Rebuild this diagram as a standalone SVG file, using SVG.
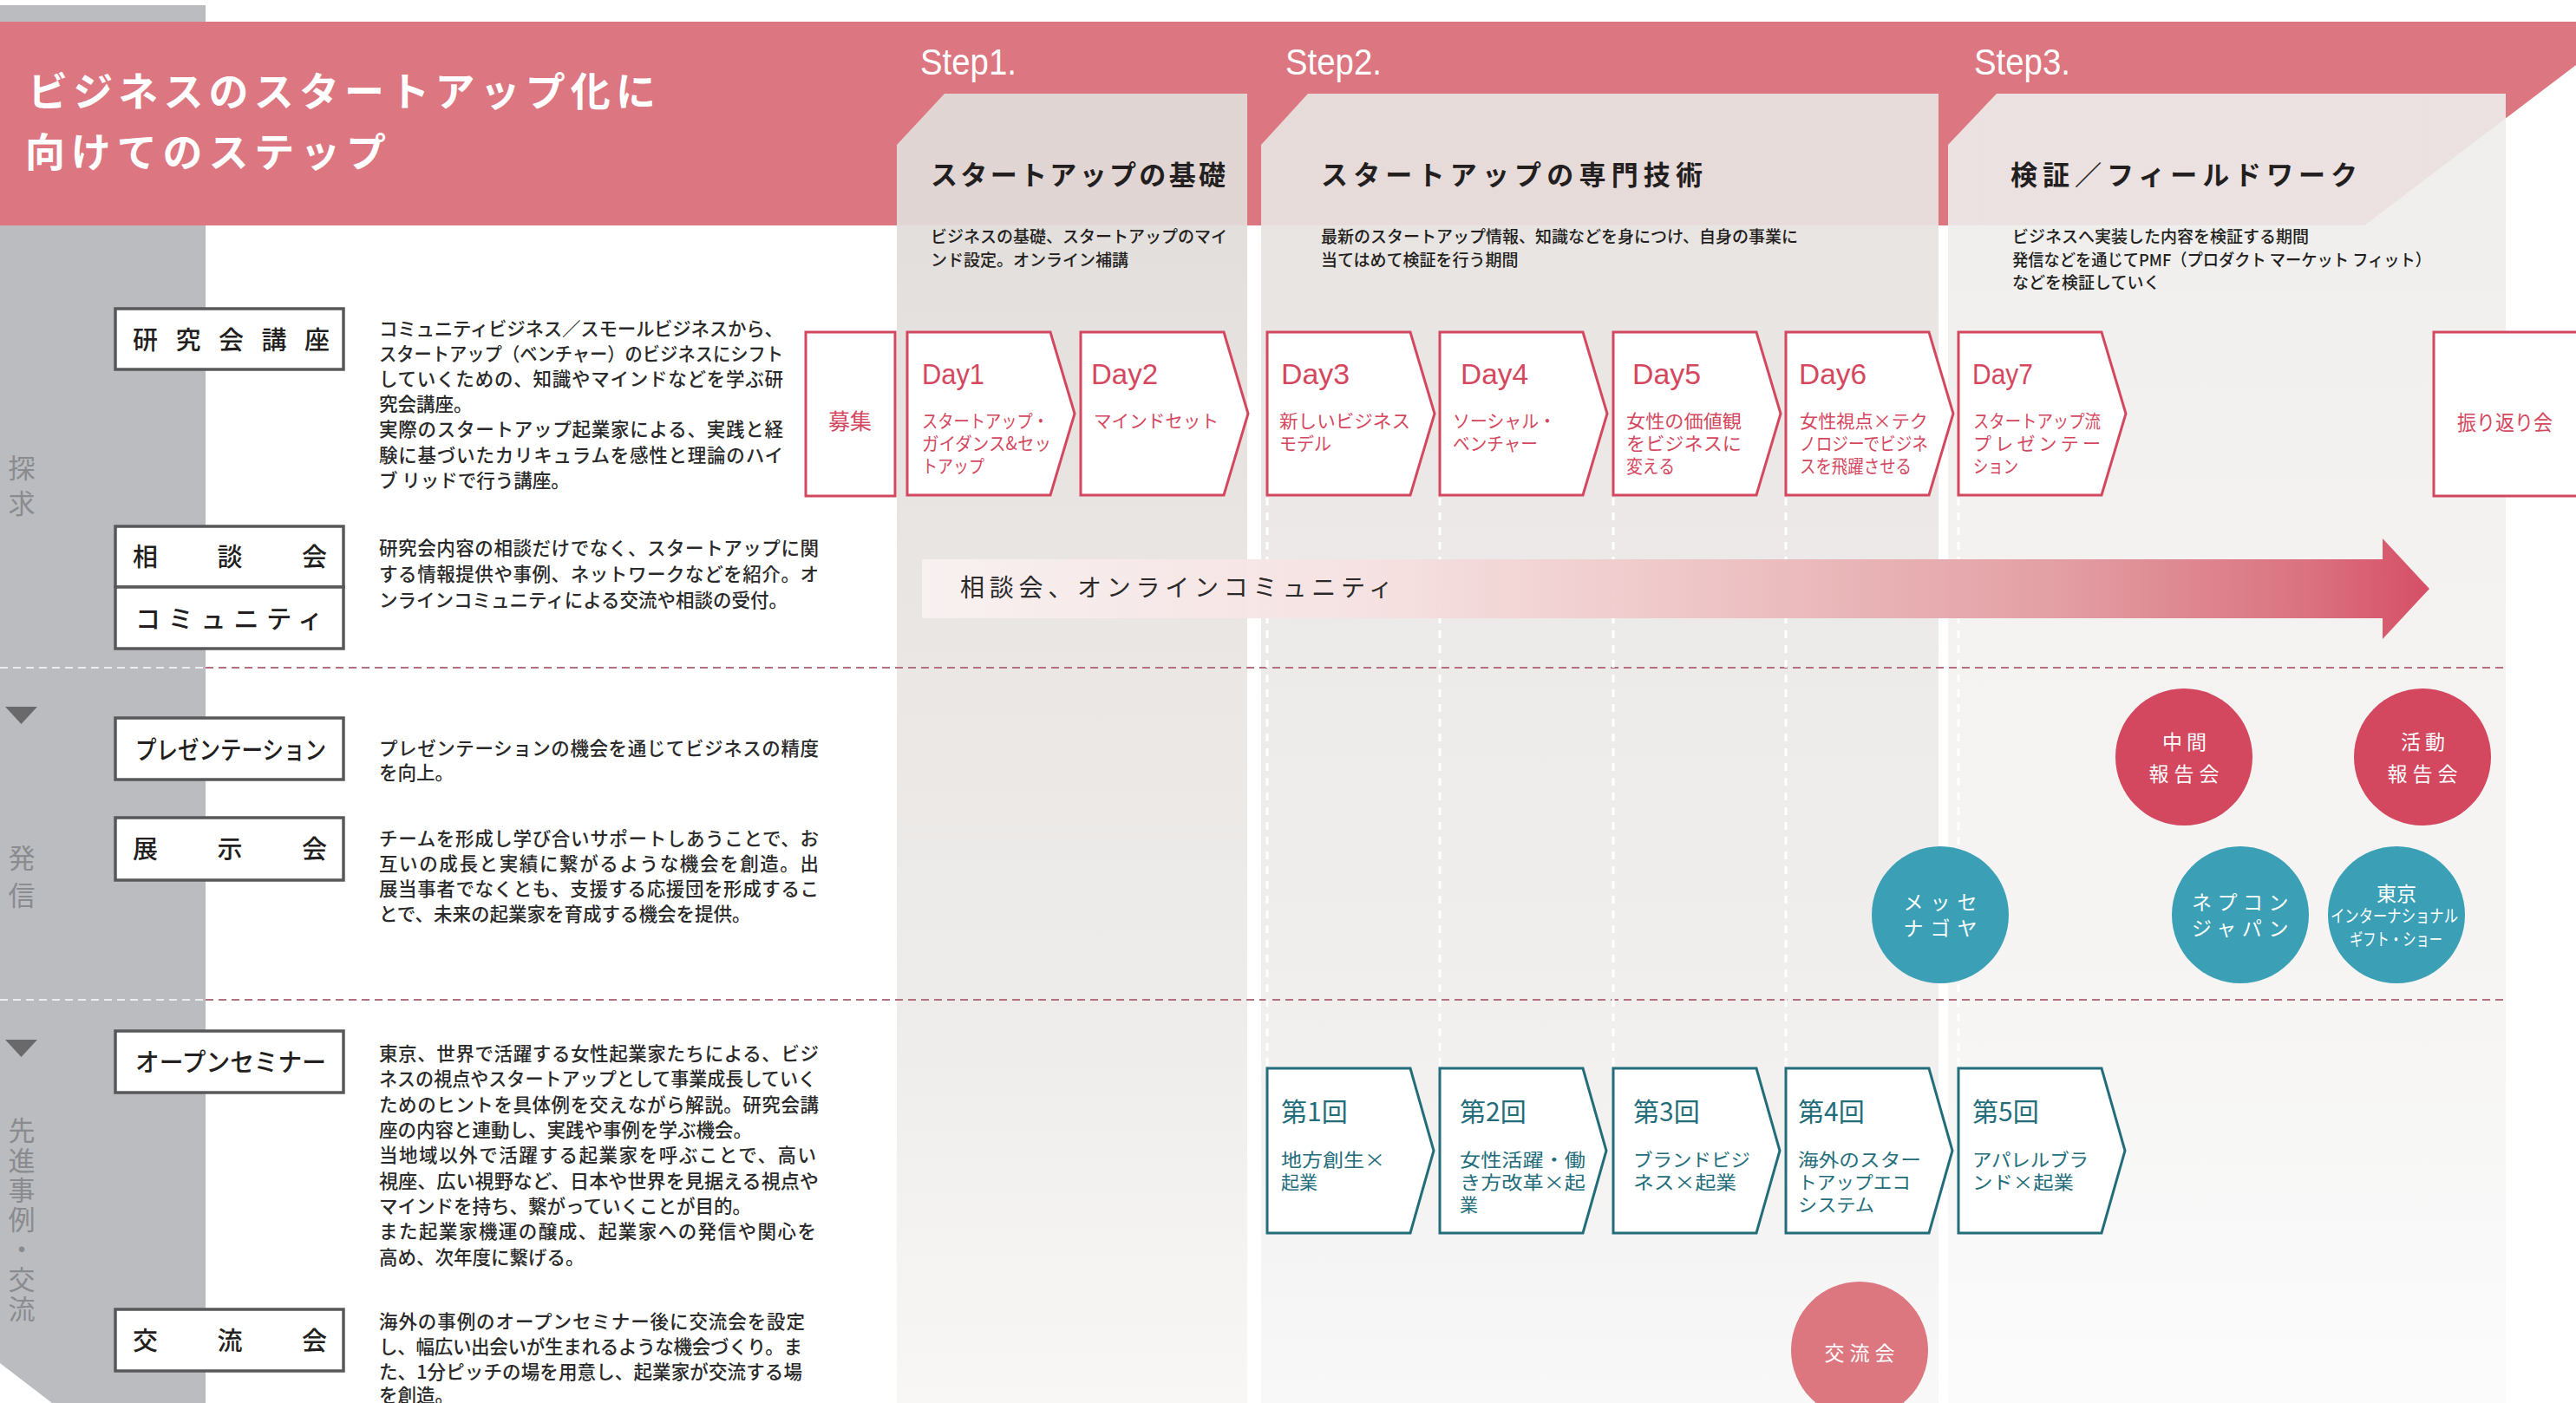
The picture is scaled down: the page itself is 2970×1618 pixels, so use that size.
<svg xmlns="http://www.w3.org/2000/svg" width="2970" height="1618" viewBox="0 0 2970 1618">
<defs>
<style>
.jp{font-family:'Noto Sans CJK JP','Noto Sans CJK SC',sans-serif;}
.lat{font-family:'Liberation Sans','Noto Sans CJK JP',sans-serif;}
.body{font-size:21.5px;fill:#2a2a2a;font-weight:500;}
.sdesc{font-size:19px;fill:#231f20;font-weight:500;}
.head{font-size:31px;fill:#231f20;font-weight:700;}
.lbl{font-size:29px;fill:#231f20;font-weight:500;}
.cat{font-size:31px;fill:#8a8b8f;writing-mode:tb;}
.step{font-size:43px;fill:#fff;}
.day{font-size:34px;fill:#d4485f;}
.dd{font-size:21px;fill:#d4485f;}
.sem{font-size:30px;fill:#236d7a;}
.sd{font-size:21px;fill:#236d7a;}
.pk{fill:#fff;stroke:#d4485f;stroke-width:3;}
.tl{fill:#fff;stroke:#236d7a;stroke-width:3;}
.box{fill:#fff;stroke:#58585a;stroke-width:3.5;}
.ct{font-size:23px;fill:#fff;text-anchor:middle;}
</style>
<linearGradient id="c1" gradientUnits="userSpaceOnUse" x1="0" y1="108" x2="0" y2="1618">
<stop offset="0" stop-color="#e2dedc" stop-opacity="0.92"/>
<stop offset="0.1" stop-color="#e2dedc" stop-opacity="0.92"/>
<stop offset="0.101" stop-color="#e3dfdd"/>
<stop offset="0.44" stop-color="#eae7e5"/>
<stop offset="0.69" stop-color="#eeecea"/>
<stop offset="1" stop-color="#f8f7f6"/>
</linearGradient>
<linearGradient id="c2" gradientUnits="userSpaceOnUse" x1="0" y1="108" x2="0" y2="1618">
<stop offset="0" stop-color="#e8e4e2" stop-opacity="0.92"/>
<stop offset="0.1" stop-color="#e8e4e2" stop-opacity="0.92"/>
<stop offset="0.101" stop-color="#e8e4e2"/>
<stop offset="0.44" stop-color="#edebea"/>
<stop offset="0.69" stop-color="#f0efee"/>
<stop offset="1" stop-color="#f9f8f8"/>
</linearGradient>
<linearGradient id="c3" gradientUnits="userSpaceOnUse" x1="0" y1="108" x2="0" y2="1618">
<stop offset="0" stop-color="#eeedec" stop-opacity="0.9"/>
<stop offset="0.1" stop-color="#eeedec" stop-opacity="0.9"/>
<stop offset="0.101" stop-color="#f0efee"/>
<stop offset="0.44" stop-color="#f4f3f2"/>
<stop offset="0.69" stop-color="#f6f5f4"/>
<stop offset="1" stop-color="#fbfbfb"/>
</linearGradient>
<linearGradient id="arr" gradientUnits="userSpaceOnUse" x1="1063" y1="0" x2="2801" y2="0">
<stop offset="0" stop-color="#f9f1f1"/>
<stop offset="0.3" stop-color="#f6e1e1"/>
<stop offset="0.5" stop-color="#efc6c7"/>
<stop offset="0.75" stop-color="#e29ba0"/>
<stop offset="0.92" stop-color="#d96b79"/>
<stop offset="1" stop-color="#d4465e"/>
</linearGradient>
</defs>

<rect x="0" y="0" width="2970" height="1618" fill="#fff"/>

<g id="background">
<polygon points="0,6 237,6 237,1618 60,1618 0,1572" fill="#bbbcc0"/>
<polygon points="0,25 3036,25 2726,260 0,260" fill="#dc7680"/>
<polygon points="1034,167 1089,108 1438,108 1438,1618 1034,1618" fill="url(#c1)"/>
<polygon points="1454,167 1508,108 2235,108 2235,1618 1454,1618" fill="url(#c2)"/>
<polygon points="2246,167 2302,108 2889,108 2889,1618 2246,1618" fill="url(#c3)"/>
</g>

<g id="header" class="jp">
<text x="32" y="122" font-size="46" font-weight="700" fill="#fff" textLength="724" lengthAdjust="spacing">ビジネスのスタートアップ化に</text>
<text x="29" y="192" font-size="46" font-weight="700" fill="#fff" textLength="416" lengthAdjust="spacing">向けてのステップ</text>
<text class="lat step" x="1061" y="86" textLength="111" lengthAdjust="spacingAndGlyphs">Step1.</text>
<text class="lat step" x="1482" y="86" textLength="111" lengthAdjust="spacingAndGlyphs">Step2.</text>
<text class="lat step" x="2276" y="86" textLength="111" lengthAdjust="spacingAndGlyphs">Step3.</text>
<text class="head" x="1073" y="213" textLength="340" lengthAdjust="spacing">スタートアップの基礎</text>
<text class="head" x="1523" y="213" textLength="440" lengthAdjust="spacing">スタートアップの専門技術</text>
<text class="head" x="2318" y="213" textLength="400" lengthAdjust="spacing">検証／フィールドワーク</text>
<text class="sdesc" x="1073" y="280">ビジネスの基礎、スタートアップのマイ</text>
<text class="sdesc" x="1073" y="306.5">ンド設定。オンライン補講</text>
<text class="sdesc" x="1523" y="280">最新のスタートアップ情報、知識などを身につけ、自身の事業に</text>
<text class="sdesc" x="1523" y="306.5">当てはめて検証を行う期間</text>
<text class="sdesc" x="2320" y="280">ビジネスへ実装した内容を検証する期間</text>
<text class="sdesc" x="2320" y="306.5" textLength="483" lengthAdjust="spacingAndGlyphs">発信などを通じてPMF（プロダクト マーケット フィット）</text>
<text class="sdesc" x="2320" y="333">などを検証していく</text>
</g>

<g id="categories" class="jp">
<text class="cat" x="25" y="524" letter-spacing="10">探求</text>
<text class="cat" x="25" y="974" letter-spacing="12">発信</text>
<text class="cat" x="25" y="1288" letter-spacing="3.3">先進事例・交流</text>
<polygon points="6,815 43,815 24.5,835" fill="#69696c"/>
<polygon points="6,1199 43,1199 24.5,1219" fill="#69696c"/>
</g>

<g id="connectors">
<line x1="0" y1="770" x2="237" y2="770" stroke="#ececec" stroke-width="2" stroke-dasharray="9 6"/>
<line x1="237" y1="770" x2="2889" y2="770" stroke="#b3707e" stroke-width="2" stroke-dasharray="9 6"/>
<line x1="0" y1="1153" x2="237" y2="1153" stroke="#ececec" stroke-width="2" stroke-dasharray="9 6"/>
<line x1="237" y1="1153" x2="2889" y2="1153" stroke="#b3707e" stroke-width="2" stroke-dasharray="9 6"/>
<g stroke="#fff" stroke-width="3" stroke-dasharray="9 8">
<line x1="1461" y1="574" x2="1461" y2="1230"/>
<line x1="1660" y1="574" x2="1660" y2="1230"/>
<line x1="1860" y1="574" x2="1860" y2="1230"/>
<line x1="2059" y1="574" x2="2059" y2="1230"/>
<line x1="2258" y1="574" x2="2258" y2="1230"/>
</g>
<g id="community-arrow">
<polygon points="1063,645 2747,645 2747,621 2801,679 2747,737 2747,713 1063,713" fill="url(#arr)" opacity="0.95"/>
<text class="jp" x="1107" y="688" font-size="28" fill="#2a2a2a" textLength="499" lengthAdjust="spacing">相談会、オンラインコミュニティ</text>
</g>
</g>

<g id="label-kenkyukai" class="jp">
<rect class="box" x="133" y="356" width="263" height="70"/>
<text class="lbl" x="153" y="403" letter-spacing="20.5">研究会講座</text>
<text class="body" x="437" y="387" textLength="466" lengthAdjust="spacing">コミュニティビジネス／スモールビジネスから、</text>
<text class="body" x="437" y="416" textLength="466" lengthAdjust="spacingAndGlyphs">スタートアップ（ベンチャー）のビジネスにシフト</text>
<text class="body" x="437" y="445" textLength="466" lengthAdjust="spacing">していくための、知識やマインドなどを学ぶ研</text>
<text class="body" x="437" y="474">究会講座。</text>
<text class="body" x="437" y="503" textLength="466" lengthAdjust="spacing">実際のスタートアップ起業家による、実践と経</text>
<text class="body" x="437" y="533" textLength="466" lengthAdjust="spacing">験に基づいたカリキュラムを感性と理論のハイ</text>
<text class="body" x="437" y="562">ブ リッドで行う講座。</text>
</g>

<g id="label-soudankai" class="jp">
<rect class="box" x="133" y="607" width="263" height="70"/>
<rect class="box" x="133" y="677" width="263" height="71"/>
<text class="lbl" x="153" y="653" letter-spacing="68.5">相談会</text>
<text class="lbl" x="156" y="725" letter-spacing="8.8">コミュニティ</text>
<text class="body" x="437" y="640" textLength="507" lengthAdjust="spacing">研究会内容の相談だけでなく、スタートアップに関</text>
<text class="body" x="437" y="670" textLength="507" lengthAdjust="spacing">する情報提供や事例、ネットワークなどを紹介。オ</text>
<text class="body" x="437" y="700">ンラインコミュニティによる交流や相談の受付。</text>
</g>

<g id="label-presentation" class="jp">
<rect class="box" x="133" y="828" width="263" height="71"/>
<text class="lbl" x="156" y="876" textLength="220" lengthAdjust="spacingAndGlyphs">プレゼンテーション</text>
<text class="body" x="437" y="871" textLength="507" lengthAdjust="spacing">プレゼンテーションの機会を通じてビジネスの精度</text>
<text class="body" x="437" y="899">を向上。</text>
</g>

<g id="label-tenjikai" class="jp">
<rect class="box" x="133" y="943" width="263" height="72"/>
<text class="lbl" x="153" y="990" letter-spacing="68.5">展示会</text>
<text class="body" x="437" y="975" textLength="507" lengthAdjust="spacing">チームを形成し学び合いサポートしあうことで、お</text>
<text class="body" x="437" y="1004" textLength="507" lengthAdjust="spacing">互いの成長と実績に繋がるような機会を創造。出</text>
<text class="body" x="437" y="1033" textLength="507" lengthAdjust="spacing">展当事者でなくとも、支援する応援団を形成するこ</text>
<text class="body" x="437" y="1062">とで、未来の起業家を育成する機会を提供。</text>
</g>

<g id="label-openseminar" class="jp">
<rect class="box" x="133" y="1189" width="263" height="71"/>
<text class="lbl" x="156" y="1236" textLength="220" lengthAdjust="spacingAndGlyphs">オープンセミナー</text>
<text class="body" x="437" y="1223" textLength="507" lengthAdjust="spacing">東京、世界で活躍する女性起業家たちによる、ビジ</text>
<text class="body" x="437" y="1252" textLength="504" lengthAdjust="spacingAndGlyphs">ネスの視点やスタートアップとして事業成長していく</text>
<text class="body" x="437" y="1282" textLength="507" lengthAdjust="spacing">ためのヒントを具体例を交えながら解説。研究会講</text>
<text class="body" x="437" y="1311">座の内容と連動し、実践や事例を学ぶ機会。</text>
<text class="body" x="437" y="1340" textLength="504" lengthAdjust="spacing">当地域以外で活躍する起業家を呼ぶことで、高い</text>
<text class="body" x="437" y="1370" textLength="507" lengthAdjust="spacingAndGlyphs">視座、広い視野など、日本や世界を見据える視点や</text>
<text class="body" x="437" y="1399">マインドを持ち、繋がっていくことが目的。</text>
<text class="body" x="437" y="1428" textLength="504" lengthAdjust="spacing">また起業家機運の醸成、起業家への発信や関心を</text>
<text class="body" x="437" y="1458">高め、次年度に繋げる。</text>
</g>

<g id="label-kouryukai" class="jp">
<rect class="box" x="133" y="1510" width="263" height="71"/>
<text class="lbl" x="153" y="1557" letter-spacing="68.5">交流会</text>
<text class="body" x="437" y="1532" textLength="491" lengthAdjust="spacing">海外の事例のオープンセミナー後に交流会を設定</text>
<text class="body" x="437" y="1561" textLength="488" lengthAdjust="spacing">し、幅広い出会いが生まれるような機会づくり。ま</text>
<text class="body" x="437" y="1590" textLength="488" lengthAdjust="spacing">た、1分ピッチの場を用意し、起業家が交流する場</text>
<text class="body" x="437" y="1617">を創造。</text>
</g>

<g id="boshu" class="jp">
<rect class="pk" x="929" y="383" width="103" height="189"/>
<text x="980" y="495" font-size="25" fill="#d4485f" text-anchor="middle">募集</text>
</g>
<g id="day1">
<polygon class="pk" points="1046,383 1211,383 1239,477 1211,571 1046,571"/>
<text class="lat day" x="1063" y="443" textLength="72" lengthAdjust="spacingAndGlyphs">Day1</text>
<text class="jp dd" x="1063" y="493" textLength="146" lengthAdjust="spacingAndGlyphs">スタートアップ・</text>
<text class="jp dd" x="1063" y="519" textLength="149" lengthAdjust="spacingAndGlyphs">ガイダンス&amp;セッ</text>
<text class="jp dd" x="1063" y="545" textLength="72" lengthAdjust="spacingAndGlyphs">トアップ</text>
</g>
<g id="day2">
<polygon class="pk" points="1246,383 1411,383 1439,477 1411,571 1246,571"/>
<text class="lat day" x="1258" y="443" textLength="77" lengthAdjust="spacingAndGlyphs">Day2</text>
<text class="jp dd" x="1261" y="493" textLength="144" lengthAdjust="spacingAndGlyphs">マインドセット</text>
</g>
<g id="day3">
<polygon class="pk" points="1461,383 1626,383 1654,477 1626,571 1461,571"/>
<text class="lat day" x="1477" y="443" textLength="79" lengthAdjust="spacingAndGlyphs">Day3</text>
<text class="jp dd" x="1475" y="493" textLength="151" lengthAdjust="spacingAndGlyphs">新しいビジネス</text>
<text class="jp dd" x="1475" y="519" textLength="60" lengthAdjust="spacingAndGlyphs">モデル</text>
</g>
<g id="day4">
<polygon class="pk" points="1660,383 1825,383 1853,477 1825,571 1660,571"/>
<text class="lat day" x="1684" y="443" textLength="78" lengthAdjust="spacingAndGlyphs">Day4</text>
<text class="jp dd" x="1675" y="493" textLength="119" lengthAdjust="spacingAndGlyphs">ソーシャル・</text>
<text class="jp dd" x="1675" y="519" textLength="98" lengthAdjust="spacingAndGlyphs">ベンチャー</text>
</g>
<g id="day5">
<polygon class="pk" points="1860,383 2025,383 2053,477 2025,571 1860,571"/>
<text class="lat day" x="1882" y="443" textLength="79" lengthAdjust="spacingAndGlyphs">Day5</text>
<text class="jp dd" x="1875" y="493" textLength="133" lengthAdjust="spacingAndGlyphs">女性の価値観</text>
<text class="jp dd" x="1875" y="519" textLength="133" lengthAdjust="spacingAndGlyphs">をビジネスに</text>
<text class="jp dd" x="1875" y="545" textLength="56" lengthAdjust="spacingAndGlyphs">変える</text>
</g>
<g id="day6">
<polygon class="pk" points="2059,383 2224,383 2252,477 2224,571 2059,571"/>
<text class="lat day" x="2074" y="443" textLength="78" lengthAdjust="spacingAndGlyphs">Day6</text>
<text class="jp dd" x="2075" y="493" textLength="148" lengthAdjust="spacingAndGlyphs">女性視点×テク</text>
<text class="jp dd" x="2075" y="519" textLength="148" lengthAdjust="spacingAndGlyphs">ノロジーでビジネ</text>
<text class="jp dd" x="2075" y="545" textLength="129" lengthAdjust="spacingAndGlyphs">スを飛躍させる</text>
</g>
<g id="day7">
<polygon class="pk" points="2258,383 2423,383 2451,477 2423,571 2258,571"/>
<text class="lat day" x="2274" y="443" textLength="70" lengthAdjust="spacingAndGlyphs">Day7</text>
<text class="jp dd" x="2275" y="493" textLength="147" lengthAdjust="spacingAndGlyphs">スタートアップ流</text>
<text class="jp dd" x="2275" y="519" textLength="147" lengthAdjust="spacing">プレゼンテー</text>
<text class="jp dd" x="2275" y="545" textLength="52" lengthAdjust="spacingAndGlyphs">ション</text>
</g>
<g id="furikaeri" class="jp">
<rect class="pk" x="2806" y="383" width="180" height="189"/>
<text x="2833" y="496" font-size="24" fill="#d4485f" textLength="110" lengthAdjust="spacingAndGlyphs">振り返り会</text>
</g>

<g id="seminar1" class="jp">
<polygon class="tl" points="1461,1232 1626,1232 1653,1327 1626,1422 1461,1422"/>
<text class="sem" x="1477" y="1293">第1回</text>
<text class="sd" x="1477" y="1345" textLength="120" lengthAdjust="spacingAndGlyphs">地方創生×</text>
<text class="sd" x="1477" y="1371">起業</text>
</g>
<g id="seminar2" class="jp">
<polygon class="tl" points="1660,1232 1825,1232 1852,1327 1825,1422 1660,1422"/>
<text class="sem" x="1683" y="1293">第2回</text>
<text class="sd" x="1683" y="1345" textLength="145" lengthAdjust="spacingAndGlyphs">女性活躍・働</text>
<text class="sd" x="1683" y="1371" textLength="145" lengthAdjust="spacingAndGlyphs">き方改革×起</text>
<text class="sd" x="1683" y="1397">業</text>
</g>
<g id="seminar3" class="jp">
<polygon class="tl" points="1860,1232 2025,1232 2052,1327 2025,1422 1860,1422"/>
<text class="sem" x="1883" y="1293">第3回</text>
<text class="sd" x="1883" y="1345" textLength="135" lengthAdjust="spacingAndGlyphs">ブランドビジ</text>
<text class="sd" x="1883" y="1371" textLength="119" lengthAdjust="spacingAndGlyphs">ネス×起業</text>
</g>
<g id="seminar4" class="jp">
<polygon class="tl" points="2059,1232 2224,1232 2251,1327 2224,1422 2059,1422"/>
<text class="sem" x="2073" y="1293">第4回</text>
<text class="sd" x="2073" y="1345" textLength="142" lengthAdjust="spacingAndGlyphs">海外のスター</text>
<text class="sd" x="2073" y="1371" textLength="130" lengthAdjust="spacingAndGlyphs">トアップエコ</text>
<text class="sd" x="2073" y="1397" textLength="88" lengthAdjust="spacingAndGlyphs">システム</text>
</g>
<g id="seminar5" class="jp">
<polygon class="tl" points="2258,1232 2423,1232 2450,1327 2423,1422 2258,1422"/>
<text class="sem" x="2274" y="1293">第5回</text>
<text class="sd" x="2274" y="1345" textLength="134" lengthAdjust="spacingAndGlyphs">アパレルブラ</text>
<text class="sd" x="2274" y="1371" textLength="117" lengthAdjust="spacingAndGlyphs">ンド×起業</text>
</g>

<g id="circle-chukan" class="jp">
<circle cx="2518" cy="873" r="79" fill="#d3475f"/>
<text class="ct" letter-spacing="5"><tspan x="2521" y="864">中間</tspan><tspan x="2521" y="901" letter-spacing="6">報告会</tspan></text>
</g>
<g id="circle-katsudo" class="jp">
<circle cx="2793" cy="873" r="79" fill="#d3475f"/>
<text class="ct" letter-spacing="5"><tspan x="2796" y="864">活動</tspan><tspan x="2796" y="901" letter-spacing="6">報告会</tspan></text>
</g>
<g id="circle-messe" class="jp">
<circle cx="2237" cy="1055" r="79" fill="#3ba0b5"/>
<text class="ct" font-size="20" letter-spacing="8"><tspan x="2241" y="1049">メッセ</tspan><tspan x="2241" y="1078.5">ナゴヤ</tspan></text>
</g>
<g id="circle-nepcon" class="jp">
<circle cx="2583" cy="1055" r="79" fill="#3ba0b5"/>
<text class="ct" font-size="20" letter-spacing="6.5"><tspan x="2586" y="1049">ネプコン</tspan><tspan x="2586" y="1078.5">ジャパン</tspan></text>
</g>
<g id="circle-giftshow" class="jp">
<circle cx="2763" cy="1055" r="79" fill="#3ba0b5"/>
<text class="ct" x="2763" y="1039" font-size="25">東京</text>
<text x="2687" y="1064" font-size="20" fill="#fff" textLength="147" lengthAdjust="spacingAndGlyphs">インターナショナル</text>
<text x="2709" y="1091" font-size="20" fill="#fff" textLength="107" lengthAdjust="spacingAndGlyphs">ギフト・ショー</text>
</g>
<g id="circle-kouryu" class="jp">
<circle cx="2144" cy="1557" r="79" fill="#dc7780"/>
<text class="ct" x="2147" y="1569" font-size="24" letter-spacing="6">交流会</text>
</g>
</svg>
